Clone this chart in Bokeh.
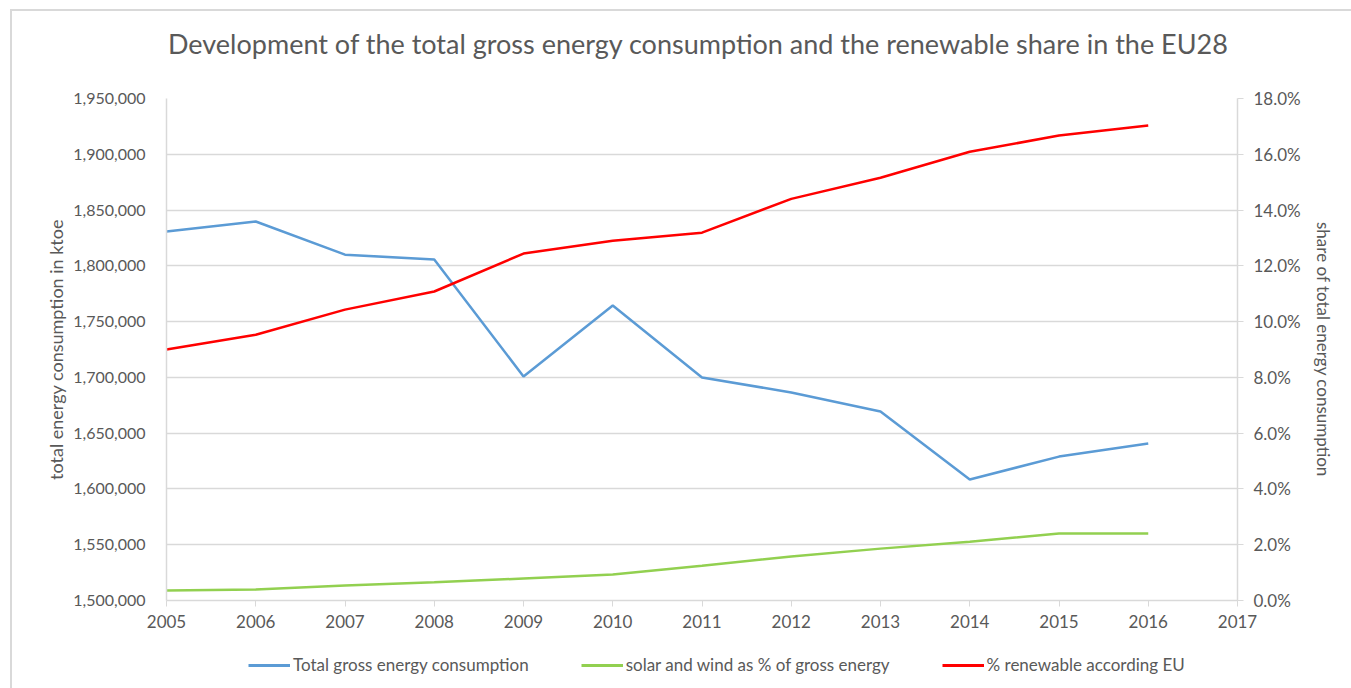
from bokeh.plotting import figure
from bokeh.models import (Range1d, LinearAxis, NumeralTickFormatter, FixedTicker,
                          Legend, LegendItem, Label)
from bokeh.layouts import column
from bokeh.embed import file_html
from bokeh.resources import INLINE

years = [2005, 2006, 2007, 2008, 2009, 2010, 2011, 2012, 2013, 2014, 2015, 2016]
total_consumption = [1830800, 1839700, 1810000, 1805700, 1700800, 1764400,
                     1699900, 1686500, 1669400, 1608500, 1629000, 1640700]
solar_wind_pct = [0.36, 0.39, 0.54, 0.65, 0.79, 0.93, 1.25, 1.58, 1.86, 2.11, 2.40, 2.40]
renewable_pct = [9.0, 9.53, 10.43, 11.08, 12.44, 12.9, 13.19, 14.4, 15.16, 16.09, 16.67, 17.03]
x_ticks = list(range(2005, 2018))
left_ticks = list(range(1500000, 1950001, 50000))
right_ticks = [0.0, 0.02, 0.04, 0.06, 0.08, 0.10, 0.12, 0.14, 0.16, 0.18]
series_names = ["Total gross energy consumption", "solar and wind as % of gross energy",
                "% renewable according EU"]
series_colors = ["#5b9bd5", "#92d050", "#ff0000"]
title_text = "Development of the total gross energy consumption and the renewable share in the EU28"

FONT = "Lato"
GRAY = "#595959"
AX = "#d9d9d9"
W = 1339
FRAME_L, FRAME_R = 166, 1237   # page x of the aligned plot frames


def blank(h):
    f = figure(width=W, height=h, output_backend="svg", toolbar_location=None,
               x_range=Range1d(FRAME_L, FRAME_R), y_range=Range1d(0, h),
               x_axis_type=None, y_axis_type=None,
               min_border=0, min_border_left=0, min_border_right=0,
               min_border_top=0, min_border_bottom=0)
    f.outline_line_color = None
    f.grid.visible = False
    f.title.visible = False
    f.border_fill_color = "white"
    f.background_fill_color = "white"
    return f


# ---- title strip
H0 = 62
p0 = blank(H0)
p0.add_layout(Label(x=698, y=30, text=title_text, text_align="center",
                    text_baseline="middle", text_font=FONT, text_font_size="27px",
                    text_color=GRAY))

# ---- main chart
H1 = 572
p = figure(width=W, height=H1, output_backend="svg", toolbar_location=None,
           x_range=Range1d(2005, 2017), y_range=Range1d(1500000, 1950000),
           min_border_left=154, min_border_right=114, min_border_top=25,
           min_border_bottom=45)
p.title.visible = False
p.extra_y_ranges = {"pct": Range1d(0, 0.18)}
p.outline_line_color = None
p.background_fill_color = "white"
p.border_fill_color = "white"

p.xgrid.visible = False
p.ygrid.grid_line_color = AX
p.ygrid.grid_line_width = 1.5
p.ygrid.ticker = FixedTicker(ticks=left_ticks)

xa = p.xaxis[0]
xa.ticker = FixedTicker(ticks=x_ticks)
xa.axis_line_color = AX
xa.axis_line_width = 1.5
xa.major_tick_line_color = AX
xa.major_tick_out = 6
xa.major_tick_in = 0
xa.minor_tick_line_color = None
xa.major_label_text_font = FONT
xa.major_label_text_font_size = "17px"
xa.major_label_text_color = GRAY
xa.major_label_standoff = 8

ya = p.yaxis[0]
ya.ticker = FixedTicker(ticks=left_ticks)
ya.formatter = NumeralTickFormatter(format="0,0")
ya.axis_line_color = AX
ya.axis_line_width = 1.5
ya.major_tick_line_color = None
ya.minor_tick_line_color = None
ya.major_label_text_font = FONT
ya.major_label_text_font_size = "16px"
ya.major_label_text_color = GRAY
ya.major_label_standoff = 15
ya.axis_label = "total energy consumption in ktoe"
ya.axis_label_text_font = FONT
ya.axis_label_text_font_size = "18px"
ya.axis_label_text_font_style = "normal"
ya.axis_label_text_color = GRAY
ya.axis_label_standoff = 3

ra = LinearAxis(y_range_name="pct", ticker=FixedTicker(ticks=right_ticks),
                formatter=NumeralTickFormatter(format="0.0%"))
ra.axis_line_color = AX
ra.axis_line_width = 1.5
ra.major_tick_line_color = AX
ra.major_tick_out = 6
ra.major_tick_in = 0
ra.minor_tick_line_color = None
ra.major_label_text_font = FONT
ra.major_label_text_font_size = "17px"
ra.major_label_text_color = GRAY
ra.major_label_standoff = 10
ra.axis_label = "share of total energy consumption"
ra.axis_label_text_font = FONT
ra.axis_label_text_font_size = "17px"
ra.axis_label_text_font_style = "normal"
ra.axis_label_text_color = GRAY
ra.axis_label_standoff = 9
p.add_layout(ra, "right")

solar_frac = [v / 100 for v in solar_wind_pct]
renew_frac = [v / 100 for v in renewable_pct]

p.line(years, total_consumption, line_color=series_colors[0], line_width=2.5)
p.line(years, solar_frac, line_color=series_colors[1], line_width=2.5, y_range_name="pct")
p.line(years, renew_frac, line_color=series_colors[2], line_width=2.5, y_range_name="pct")

# ---- legend strip (dummy renderers kept outside the visible range)
H2 = 677 - H0 - H1
p2 = blank(H2)
items = []
for name, col in zip(series_names, series_colors):
    r = p2.line([0, 10], [-50, -50], line_color=col, line_width=3)
    items.append(LegendItem(label=name, renderers=[r]))
legend = Legend(items=items, orientation="horizontal", location=(82, 13))
legend.border_line_color = None
legend.background_fill_alpha = 0
legend.padding = 0
legend.margin = 0
legend.spacing = 52
legend.glyph_width = 42
legend.glyph_height = 20
legend.label_standoff = 3
legend.label_text_font = FONT
legend.label_text_font_size = "17px"
legend.label_text_color = GRAY
p2.add_layout(legend, "center")

layout = column(p0, p, p2, spacing=0,
                styles={"border-top": "2px solid #d9d9d9", "border-left": "2px solid #d9d9d9",
                        "position": "relative", "left": "10px", "top": "9px"})

open("out.html", "w").write(file_html(layout, INLINE))
